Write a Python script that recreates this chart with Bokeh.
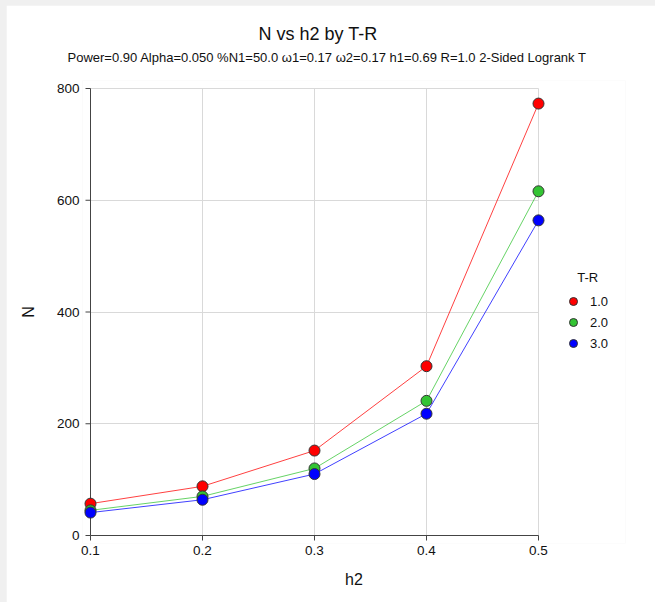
from bokeh.plotting import figure
from bokeh.models import Range1d, FixedTicker, Legend, LegendItem, Title
from bokeh.layouts import column
from bokeh.embed import file_html
from bokeh.resources import INLINE

h2 = [0.1, 0.2, 0.3, 0.4, 0.5]
series_names = ["1.0", "2.0", "3.0"]
n_tr1 = [57, 88, 152, 303, 773]
n_tr2 = [45, 70, 120, 241, 616]
n_tr3 = [41, 64, 110, 218, 564]
colors = ["#ff0000", "#33c433", "#0000ff"]
x_ticks = [0.1, 0.2, 0.3, 0.4, 0.5]
y_ticks = [0, 200, 400, 600, 800]

FONT = "Liberation Sans"
AXIS_COLOR = "#444444"

# data area: 448 px for 0.4 in x, 447 px for 800 in y; frame padded around it
px_x = 0.4 / 448.0
px_y = 800.0 / 447.0
x_lo, x_hi = x_ticks[0] - 8 * px_x, x_ticks[-1] + 87 * px_x
y_lo, y_hi = y_ticks[0] - 8 * px_y, y_ticks[-1] + 8 * px_y

p = figure(width=649, height=597, output_backend="svg", toolbar_location=None,
           x_range=Range1d(x_lo, x_hi), y_range=Range1d(y_lo, y_hi),
           min_border_left=76, min_border_right=30, min_border_top=75, min_border_bottom=59)
p.margin = (5, 0, 0, 6)
p.background_fill_color = "white"
p.border_fill_color = "white"
p.outline_line_color = None

sub = Title(text="Power=0.90 Alpha=0.050 %N1=50.0 \u03c91=0.17 \u03c92=0.17 h1=0.69 R=1.0 2-Sided Logrank T",
            align="left", text_font=FONT, text_font_size="13px", text_font_style="normal",
            text_color="#111111", offset=-15, standoff=32)
p.add_layout(sub, "above")
ttl = Title(text="N vs h2 by T-R", align="left", text_font=FONT, text_font_size="18px",
            text_font_style="normal", text_color="#111111", offset=176, standoff=-24)
p.add_layout(ttl, "above")

for ax in (p.xaxis[0], p.yaxis[0]):
    ax.axis_line_color = None
    ax.major_tick_line_color = None
    ax.minor_tick_line_color = None
    ax.major_tick_out = 0
    ax.major_tick_in = 0
    ax.major_label_text_font = FONT
    ax.major_label_text_font_size = "13.5px"
    ax.major_label_text_color = "#111111"
    ax.axis_label_text_font = FONT
    ax.axis_label_text_font_size = "16px"
    ax.axis_label_text_font_style = "normal"
    ax.axis_label_text_color = "#111111"

p.xaxis[0].ticker = FixedTicker(ticks=x_ticks)
p.yaxis[0].ticker = FixedTicker(ticks=y_ticks)
p.xaxis[0].bounds = (x_ticks[0], x_ticks[-1])
p.yaxis[0].bounds = (y_ticks[0], y_ticks[-1])
p.xaxis[0].axis_label = "h2"
p.yaxis[0].axis_label = "N"
p.xaxis[0].major_label_standoff = 2
p.xaxis[0].axis_label_standoff = 13
p.yaxis[0].major_label_standoff = 3
p.yaxis[0].axis_label_standoff = 17
p.xgrid.grid_line_color = "#d9d9d9"
p.ygrid.grid_line_color = "#d9d9d9"
p.xgrid.cross_bounds = (y_ticks[0], y_ticks[-1])
p.ygrid.cross_bounds = (x_ticks[0], x_ticks[-1])

# axis lines and outward ticks at the data-area edges
tick_x = 5 * px_x
tick_y = 5 * px_y
p.segment(x0=[x_ticks[0], x_ticks[0]], y0=[y_ticks[0], y_ticks[0]],
          x1=[x_ticks[0], x_ticks[-1]], y1=[y_ticks[-1], y_ticks[0]],
          line_color=AXIS_COLOR, line_width=1)
p.segment(x0=[x_ticks[0] - tick_x] * len(y_ticks), y0=y_ticks,
          x1=[x_ticks[0]] * len(y_ticks), y1=y_ticks,
          line_color=AXIS_COLOR, line_width=1)
p.segment(x0=x_ticks, y0=[y_ticks[0] - tick_y] * len(x_ticks),
          x1=x_ticks, y1=[y_ticks[0]] * len(x_ticks),
          line_color=AXIS_COLOR, line_width=1)

items = []
for name, vals, c in zip(series_names, [n_tr1, n_tr2, n_tr3], colors):
    p.line(h2, vals, line_color=c, line_width=1, line_alpha=0.75)
    r = p.scatter(h2, vals, size=11, fill_color=c, line_color="#333333", line_width=1)
    items.append(LegendItem(label=name, renderers=[r]))

legend = Legend(items=items, location=(481, 190), title="    T-R")
legend.border_line_color = None
legend.background_fill_alpha = 0
legend.title_text_font = FONT
legend.title_text_font_size = "13px"
legend.title_text_font_style = "normal"
legend.title_text_color = "#111111"
legend.title_standoff = 6
legend.label_text_font = FONT
legend.label_text_font_size = "13px"
legend.label_text_color = "#111111"
legend.glyph_width = 20
legend.glyph_height = 20
legend.label_height = 20
legend.spacing = 1
legend.label_standoff = 7
legend.margin = 0
legend.padding = 10
p.add_layout(legend)

layout = column(p, width=655, height=602, styles={"background-color": "#f0f0f0"})

open("out.html", "w").write(file_html(layout, INLINE))
